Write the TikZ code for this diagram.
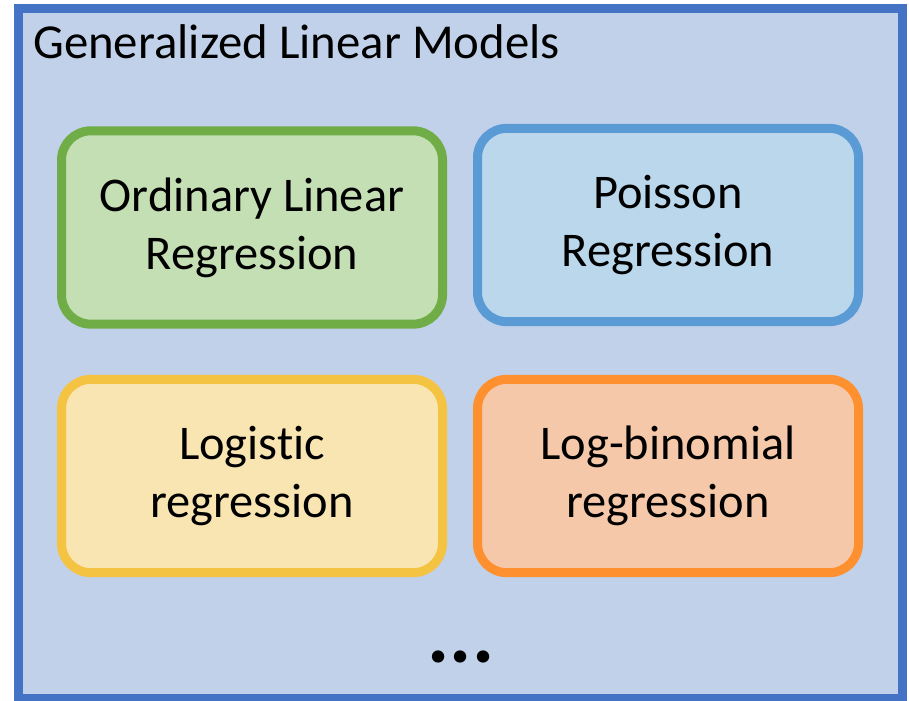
\documentclass[tikz,border=0pt]{standalone}
\usepackage{fontspec}
\setmainfont{Carlito}[Ligatures=NoCommon]
\usetikzlibrary{positioning}

\definecolor{glmfill}{HTML}{C1D1EA}
\definecolor{glmline}{HTML}{4472C4}
\definecolor{olsfill}{HTML}{C5DFB5}
\definecolor{olsline}{HTML}{70AD47}
\definecolor{poifill}{HTML}{BAD7EC}
\definecolor{poiline}{HTML}{5B9BD5}
\definecolor{logfill}{HTML}{F9E5B1}
\definecolor{logline}{HTML}{F5C342}
\definecolor{lbnfill}{HTML}{F5C8AA}
\definecolor{lbnline}{HTML}{FF9030}

\begin{document}
\begin{tikzpicture}[x=0.75pt,y=-0.75pt,
	model/.style={rounded corners=22pt, line width=6.75pt,
		minimum width=285.75pt, minimum height=145pt, align=center,
		font=\fontsize{36.3}{43.5}\selectfont}]
	\useasboundingbox (0,0) rectangle (909,700);
	% outer frame
	\node[draw=glmline, fill=glmfill, line width=7pt, minimum width=663pt,
		minimum height=518pt, inner sep=0pt] (glm) at (460.25,353.5) {};
	\node[anchor=base west, inner sep=0pt, font=\fontsize{36.6}{44}\selectfont]
		(title) at (33,58) {Generalized Linear Models};
	% the four models
	\node[model, draw=olsline, fill=olsfill] (ols) at (252,227.5)
		{Ordinary Linear\\Regression};
	\node[model, draw=poiline, fill=poifill] (poi) at (668,225)
		{Poisson\\Regression};
	\node[model, draw=logline, fill=logfill] (logit) at (252,476)
		{Logistic\\regression};
	\node[model, draw=lbnline, fill=lbnfill] (lbn) at (668,476)
		{Log-binomial\\regression};
	\node[font=\fontsize{62}{70}\selectfont\bfseries] (more) at (461,657) {...};
\end{tikzpicture}
\end{document}
